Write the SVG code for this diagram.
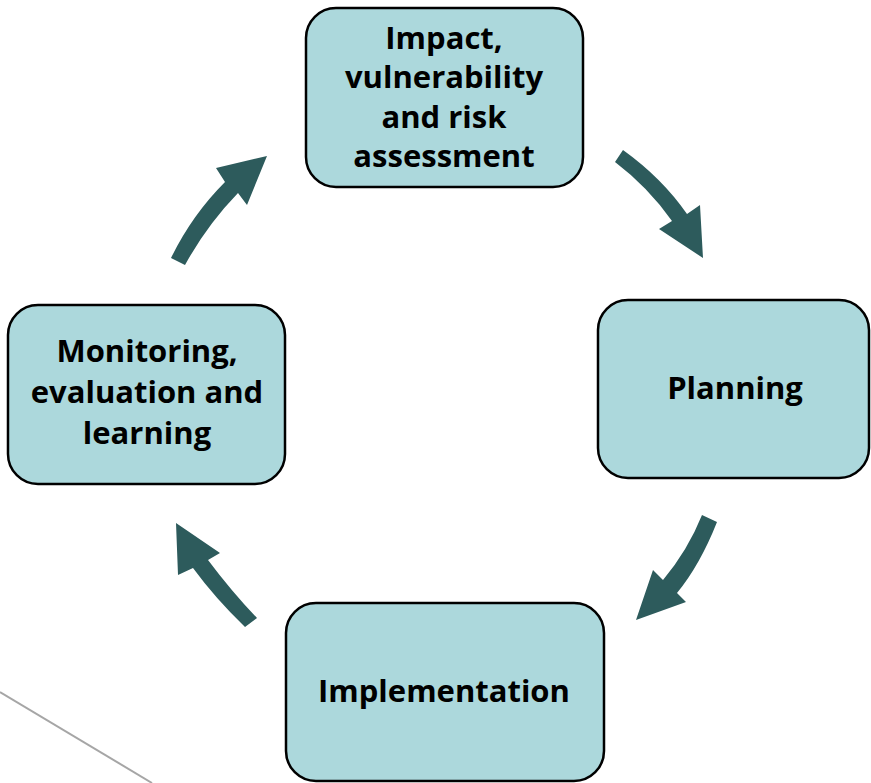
<svg xmlns="http://www.w3.org/2000/svg" width="871" height="783" viewBox="0 0 871 783">
<style>
.box{fill:#acd8dc;stroke:#000;stroke-width:2.5}
.t{font-family:"Open Sans","Liberation Sans",sans-serif;font-weight:bold;font-size:31px;fill:#000;text-anchor:middle;font-variant-ligatures:none}
.arr{fill:#2d5b5c}
</style>
<rect width="871" height="783" fill="#fff"/>
<line x1="0" y1="692" x2="152" y2="783" stroke="#a6a6a6" stroke-width="2"/>
<g id="n1"><rect class="box" x="306" y="8" width="277" height="179" rx="30"/>
<text class="t" x="444" y="49">Impact,</text><text class="t" x="444" y="88">vulnerability</text><text class="t" x="444" y="128">and risk</text><text class="t" x="444" y="167">assessment</text></g>
<g id="n2"><rect class="box" x="598" y="300" width="271" height="178" rx="30"/>
<text class="t" x="735" y="399">Planning</text></g>
<g id="n3"><rect class="box" x="286" y="603" width="318" height="178" rx="30"/>
<text class="t" x="444" y="702">Implementation</text></g>
<g id="n4"><rect class="box" x="8" y="305" width="277" height="179" rx="30"/>
<text class="t" x="147" y="362">Monitoring,</text><text class="t" x="147" y="403">evaluation and</text><text class="t" x="147" y="444">learning</text></g>
<g id="connectors">
<path class="arr" d="M615,162 L623,150 Q662,178 687,214 L700,205 L703,258 L659,229 L672,221 Q648,187 615,162 Z"/>
<path class="arr" d="M702,515 L717,522 Q700,565 677,593 L686,602 L636,620 L653,570 L663,580 Q688,550 702,515 Z"/>
<path class="arr" d="M257,618 L245,627 Q215,598 193,568 L178,575 L176,523 L220,553 L208,560 Q232,592 257,618 Z"/>
<path class="arr" d="M171,258 Q192,215 225,182 L216,168 L267,156 L247,205 L238,193 Q207,225 185,265 Z"/>
</g>
</svg>
